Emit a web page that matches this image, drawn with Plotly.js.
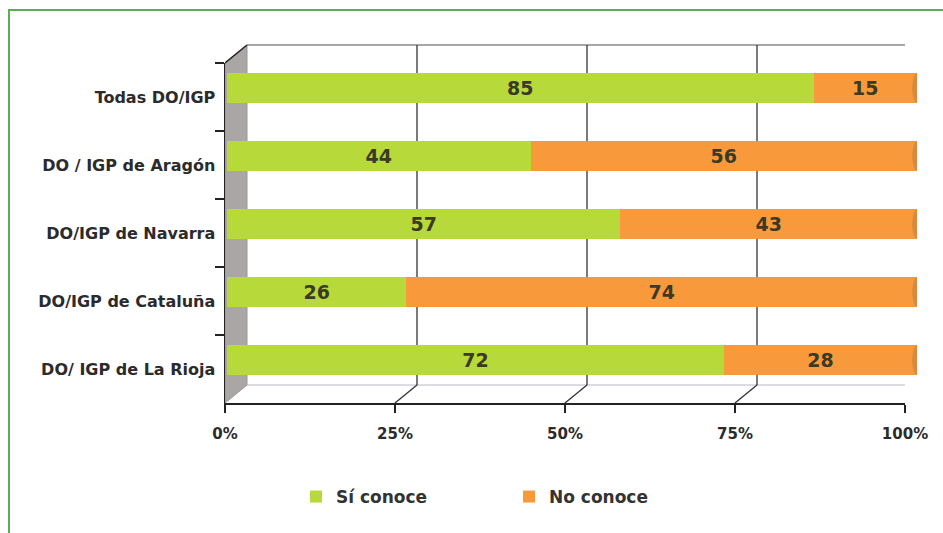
<!DOCTYPE html>
<html>
<head>
<meta charset="utf-8">
<script src="https://cdn.plot.ly/plotly-3.0.1.min.js"></script>
<style>html,body{margin:0;padding:0;background:#fff;}#chart{width:943px;height:533px;}</style>
</head>
<body>
<div id="chart"></div>
<script>
// ---- data ----
var categories = ['Todas DO/IGP', 'DO / IGP de Aragón', 'DO/IGP de Navarra', 'DO/IGP de Cataluña', 'DO/ IGP de La Rioja'];
var siConoce = [85, 44, 57, 26, 72];
var noConoce = [15, 56, 43, 74, 28];
var tickVals = [0, 25, 50, 75, 100];
var tickText = ['0%', '25%', '50%', '75%', '100%'];
var seriesNames = ['Sí conoce', 'No conoce'];

// ---- geometry helpers (pixels -> paper) ----
var W = 943, H = 533;
function px(x) { return x / W; }
function py(y) { return 1 - y / H; }
var FONT = 'DejaVu Sans, Verdana, sans-serif';
var GREEN = '#b7d93a', ORANGE = '#f89a3b';
var depthOff = 22 / 680 * 100; // back wall offset in front-axis units

var traces = [
  {
    type: 'bar', orientation: 'h', name: seriesNames[0],
    x: siConoce, y: categories, xaxis: 'x', yaxis: 'y',
    width: 0.43, marker: {color: GREEN},
    text: siConoce.map(String), textposition: 'inside', insidetextanchor: 'middle',
    textangle: 0,
    textfont: {family: FONT, size: 19, color: '#3a3a26', weight: 'bold'},
    hoverinfo: 'x+name'
  },
  {
    type: 'bar', orientation: 'h', name: seriesNames[1],
    x: noConoce, y: categories, xaxis: 'x', yaxis: 'y',
    width: 0.43, marker: {color: ORANGE},
    text: noConoce.map(String), textposition: 'inside', insidetextanchor: 'middle',
    textangle: 0,
    textfont: {family: FONT, size: 19, color: '#3a3a26', weight: 'bold'},
    hoverinfo: 'x+name'
  },
  {
    type: 'scatter', mode: 'markers', x: categories.map(function(){return 0;}), y: categories,
    xaxis: 'x2', yaxis: 'y2', marker: {opacity: 0}, showlegend: false, hoverinfo: 'skip'
  }
];

var shapes = [];
// green frame
shapes.push({type: 'rect', xref: 'paper', yref: 'paper', x0: px(9), x1: px(950), y0: py(540), y1: py(10),
  line: {color: '#5aab5a', width: 2}, layer: 'below'});
// side wall
shapes.push({type: 'path', xref: 'paper', yref: 'paper',
  path: 'M' + px(225) + ',' + py(63) + ' L' + px(247) + ',' + py(45) + ' L' + px(247) + ',' + py(385) + ' L' + px(225) + ',' + py(403) + ' Z',
  fillcolor: '#aaa6a6', line: {color: '#9a9696', width: 1}, layer: 'below'});
// back wall edges
shapes.push({type: 'line', xref: 'x2', yref: 'paper', x0: depthOff, x1: 100 + depthOff, y0: py(45), y1: py(45), line: {color: '#8a8a8a', width: 1.5}, layer: 'below'});
shapes.push({type: 'line', xref: 'x2', yref: 'paper', x0: 100 + depthOff, x1: 100 + depthOff, y0: py(45), y1: py(385), line: {color: '#8a8a8a', width: 1.5}, layer: 'below'});
shapes.push({type: 'line', xref: 'x2', yref: 'paper', x0: depthOff, x1: 100 + depthOff, y0: py(385), y1: py(385), line: {color: '#b8b8c4', width: 1}, layer: 'below'});
// top-left diagonal
shapes.push({type: 'line', xref: 'x2', yref: 'paper', x0: 0, x1: depthOff, y0: py(63), y1: py(45), line: {color: '#222', width: 1.5}, layer: 'below'});
// back gridlines and floor diagonals
[25, 50, 75].forEach(function(v) {
  shapes.push({type: 'line', xref: 'x2', yref: 'paper', x0: v + depthOff, x1: v + depthOff, y0: py(385), y1: py(45), line: {color: '#333', width: 1.3}, layer: 'below'});
});
[25, 50, 75, 100].forEach(function(v) {
  shapes.push({type: 'line', xref: 'x2', yref: 'paper', x0: v, x1: v + depthOff, y0: py(403), y1: py(385), line: {color: v === 100 ? '#888' : '#333', width: 1.3}, layer: 'below'});
});
// right end caps of bars
categories.forEach(function(c, i) {
  shapes.push({type: 'circle', xref: 'x', yref: 'y', x0: 99.3, x1: 100.7, y0: i - 0.215, y1: i + 0.215,
    fillcolor: '#d8893d', line: {width: 0}, layer: 'above'});
});

var layout = {
  width: W, height: H,
  margin: {l: 0, r: 0, t: 0, b: 0},
  paper_bgcolor: '#ffffff', plot_bgcolor: 'rgba(0,0,0,0)',
  barmode: 'stack', bargap: 0.57,
  font: {family: FONT, color: '#2b2b2b'},
  xaxis: {domain: [px(227), px(917)], range: [0, 100], visible: false, fixedrange: true, anchor: 'y'},
  yaxis: {domain: [py(394), py(54)], type: 'category', categoryorder: 'array', categoryarray: categories,
    range: [4.5, -0.5], visible: false, fixedrange: true, anchor: 'x'},
  xaxis2: {domain: [px(225), px(905)], range: [0, 100], anchor: 'y2',
    tickmode: 'array', tickvals: tickVals, ticktext: tickText,
    ticks: 'outside', ticklen: 8, tickwidth: 1.5, tickcolor: '#222',
    showline: true, linecolor: '#222', linewidth: 1.5, showgrid: false, zeroline: false,
    ticklabelstandoff: 8,
    tickfont: {family: FONT, size: 15, color: '#2b2b2b', weight: 'bold'}, fixedrange: true},
  yaxis2: {domain: [py(403), py(63)], anchor: 'x2', type: 'category', categoryorder: 'array', categoryarray: categories,
    range: [4.5, -0.5], tickson: 'boundaries', ticks: 'outside', ticklen: 9, tickwidth: 1.5, tickcolor: '#222',
    showline: true, linecolor: '#222', linewidth: 1.5, showgrid: false, zeroline: false,
    ticklabelstandoff: 5,
    tickfont: {family: FONT, size: 16, color: '#2b2b2b', weight: 'bold'}, fixedrange: true},
  showlegend: true,
  legend: {orientation: 'h', x: px(296), xanchor: 'left', y: py(497), yanchor: 'middle',
    font: {family: FONT, size: 17, color: '#333', weight: 'bold'},
    entrywidth: 168, entrywidthmode: 'pixels', traceorder: 'normal', bgcolor: 'rgba(0,0,0,0)'},
  shapes: shapes
};

Plotly.newPlot('chart', traces, layout, {displayModeBar: false, staticPlot: true});
</script>
</body>
</html>
